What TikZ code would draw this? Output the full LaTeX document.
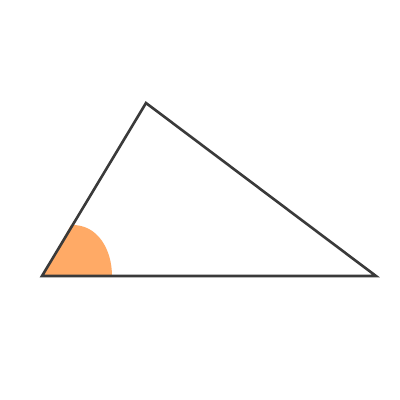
\documentclass[tikz,border=0pt]{standalone}
\definecolor{edge}{HTML}{3A3A3A}
\definecolor{fillor}{HTML}{FFAA66}
\tikzset{tri/.style={draw=edge,line width=2.6pt,line join=miter}}
\begin{document}
\begin{tikzpicture}[x=1pt,y=-1pt]
\useasboundingbox[fill=white] (0,0) rectangle (400,400);
\coordinate (A) at (42,276);
\coordinate (B) at (146,103);
\coordinate (C) at (376,276);
\coordinate (S) at (112,276);
\coordinate (E) at (71,225);
\fill[fillor] (A) -- (S) .. controls (112,250) and (98,224) .. (E) -- cycle;
\draw[tri] (A) -- (B) -- (C) -- cycle;
\end{tikzpicture}
\end{document}
